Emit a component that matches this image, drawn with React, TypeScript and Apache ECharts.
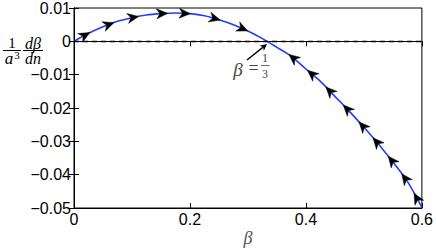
import React, { useEffect, useRef } from "react";
import * as echarts from "echarts";

const curveBeta = [0, 0.025, 0.05, 0.075, 0.1, 0.125, 0.15, 0.175, 0.2, 0.225, 0.25, 0.275, 0.3, 0.325, 0.35, 0.375, 0.4, 0.425, 0.45, 0.475, 0.5, 0.525, 0.55, 0.575, 0.6];
const curveVal = [0, 0.0024, 0.0044, 0.006, 0.0071, 0.0079, 0.0083, 0.0085, 0.0083, 0.0077, 0.0065, 0.005, 0.0031, 0.0008, -0.0018, -0.0045, -0.0083, -0.012, -0.0165, -0.021, -0.0258, -0.0308, -0.0362, -0.042, -0.0498];
const arrowBeta = [0.019, 0.06, 0.102, 0.152, 0.191, 0.243, 0.291, 0.378, 0.41, 0.441, 0.471, 0.498, 0.522, 0.548, 0.571, 0.591];
const fixedPoint = 1 / 3;
const yMin = -0.05;
const yMax = 0.01;

function interp(b: number): number {
  for (let i = 0; i < curveBeta.length - 1; i++) {
    if (b >= curveBeta[i] && b <= curveBeta[i + 1]) {
      const t = (b - curveBeta[i]) / (curveBeta[i + 1] - curveBeta[i]);
      return curveVal[i] + t * (curveVal[i + 1] - curveVal[i]);
    }
  }
  return curveVal[curveVal.length - 1];
}

const fmtY = (v: number) => {
  if (Math.abs(v) < 1e-9) return "0";
  const s = v.toFixed(2);
  return s.replace("-", "\u2212");
};
const fmtX = (v: number) => {
  if (Math.abs(v) < 1e-9) return "0";
  return String(Number(v.toFixed(1)));
};

export default function App() {
  const ref = useRef<HTMLDivElement>(null);
  useEffect(() => {
    document.body.style.margin = "0";
    if (!ref.current) return;
    const chart = echarts.init(ref.current, null, { renderer: "svg" });
    const labelFont = "'Liberation Sans', Arial, sans-serif";
    const serif = "'Liberation Serif', 'Times New Roman', serif";

    const a0 = [247, 60];
    const a1 = [267, 44];
    const dx = a1[0] - a0[0];
    const dy = a1[1] - a0[1];
    const len = Math.sqrt(dx * dx + dy * dy);
    const ux = dx / len, uy = dy / len;
    const px = -uy, py = ux;
    const headL = 7, headW = 3.5;
    const headPts = [
      [a1[0], a1[1]],
      [a1[0] - ux * headL + px * headW, a1[1] - uy * headL + py * headW],
      [a1[0] - ux * headL * 0.7, a1[1] - uy * headL * 0.7],
      [a1[0] - ux * headL - px * headW, a1[1] - uy * headL - py * headW],
    ];

    const option: any = {
      animation: false,
      grid: { left: 74, right: 14, top: 8, bottom: 40, show: true, borderColor: "#000", borderWidth: 1 },
      xAxis: [
        {
          type: "value",
          min: 0,
          max: 0.6,
          interval: 0.2,
          axisLine: { show: true, onZero: false, lineStyle: { color: "#000", width: 1 } },
          axisTick: { show: true, inside: true, length: 5, lineStyle: { color: "#000" } },
          splitLine: { show: false },
          axisLabel: { color: "#000", fontSize: 16, fontFamily: labelFont, margin: 3, formatter: fmtX },
        },
        {
          type: "value",
          position: "top",
          min: 0,
          max: 0.6,
          interval: 0.2,
          axisLine: { show: true, lineStyle: { color: "#000", width: 1 } },
          axisTick: { show: true, inside: true, length: 5, lineStyle: { color: "#000" } },
          splitLine: { show: false },
          axisLabel: { show: false },
        },
      ],
      yAxis: [
        {
          type: "value",
          min: yMin,
          max: yMax,
          interval: 0.01,
          axisLine: { show: true, onZero: false, lineStyle: { color: "#000", width: 1 } },
          axisTick: { show: true, inside: true, length: 5, lineStyle: { color: "#000" } },
          splitLine: { show: false },
          axisLabel: { color: "#000", fontSize: 16, fontFamily: labelFont, margin: 3, formatter: fmtY },
        },
        {
          type: "value",
          position: "right",
          min: yMin,
          max: yMax,
          interval: 0.01,
          axisLine: { show: true, lineStyle: { color: "#000", width: 1 } },
          axisTick: { show: true, inside: true, length: 5, lineStyle: { color: "#000" } },
          splitLine: { show: false },
          axisLabel: { show: false },
        },
      ],
      series: [
        {
          type: "line",
          data: curveBeta.map((b, i) => [b, curveVal[i]]),
          smooth: 0.3,
          symbol: "none",
          lineStyle: { color: "#1f3fff", width: 1.6 },
          markLine: {
            silent: true,
            symbol: "none",
            label: { show: false },
            lineStyle: { color: "#000", type: [5, 4], width: 1.4 },
            data: [{ yAxis: 0 }],
          },
          z: 2,
        },
        {
          type: "custom",
          z: 3,
          data: arrowBeta.map((b) => [b, interp(b)]),
          renderItem: (params: any, api: any) => {
            const b = api.value(0);
            const v = api.value(1);
            const d = b < fixedPoint ? 0.004 : -0.004;
            const p = api.coord([b, v]);
            const q = api.coord([b + d, interp(b + d)]);
            const ang = Math.atan2(q[1] - p[1], q[0] - p[0]);
            const c = Math.cos(ang), s = Math.sin(ang);
            const local = [[5.5, 0], [-5.5, -5], [-2.2, 0], [-5.5, 5]];
            const pts = local.map(([lx, ly]) => [p[0] + lx * c - ly * s, p[1] + lx * s + ly * c]);
            return { type: "polygon", shape: { points: pts }, style: { fill: "#000", stroke: "#000", lineWidth: 0.5 } };
          },
        },
      ],
      graphic: [
        { type: "text", x: 12, y: 43, style: { text: "1", font: `15px ${serif}`, fill: "#000", align: "center", verticalAlign: "middle" } },
        { type: "line", shape: { x1: 3, y1: 50.5, x2: 21, y2: 50.5 }, style: { stroke: "#000", lineWidth: 1 } },
        { type: "text", x: 9, y: 58.5, style: { text: "a", font: `italic 17px ${serif}`, fill: "#000", align: "center", verticalAlign: "middle" } },
        { type: "text", x: 17, y: 55, style: { text: "3", font: `11px ${serif}`, fill: "#000", align: "center", verticalAlign: "middle" } },
        { type: "text", x: 33, y: 43, style: { text: "d\u03b2", font: `italic 16px ${serif}`, fill: "#000", align: "center", verticalAlign: "middle" } },
        { type: "line", shape: { x1: 23, y1: 50.5, x2: 43, y2: 50.5 }, style: { stroke: "#000", lineWidth: 1 } },
        { type: "text", x: 33, y: 58.5, style: { text: "dn", font: `italic 16px ${serif}`, fill: "#000", align: "center", verticalAlign: "middle" } },
        { type: "text", x: 248, y: 238, style: { text: "\u03b2", font: `italic 18px ${serif}`, fill: "#555", align: "center", verticalAlign: "middle" } },
        { type: "text", x: 238, y: 69, style: { text: "\u03b2", font: `italic 19px ${serif}`, fill: "#444", align: "center", verticalAlign: "middle" } },
        { type: "text", x: 253.5, y: 68, style: { text: "=", font: `18px ${serif}`, fill: "#444", align: "center", verticalAlign: "middle" } },
        { type: "text", x: 265, y: 58, style: { text: "1", font: `12px ${serif}`, fill: "#444", align: "center", verticalAlign: "middle" } },
        { type: "line", shape: { x1: 261, y1: 65.5, x2: 269.5, y2: 65.5 }, style: { stroke: "#444", lineWidth: 0.8 } },
        { type: "text", x: 265, y: 74, style: { text: "3", font: `12px ${serif}`, fill: "#444", align: "center", verticalAlign: "middle" } },
        { type: "line", shape: { x1: a0[0], y1: a0[1], x2: a1[0] - ux * 5, y2: a1[1] - uy * 5 }, style: { stroke: "#000", lineWidth: 1.4 } },
        { type: "polygon", shape: { points: headPts }, style: { fill: "#000" } },
      ],
    };
    chart.setOption(option);
    return () => chart.dispose();
  }, []);
  return <div ref={ref} style={{ width: 436, height: 248 }} />;
}
